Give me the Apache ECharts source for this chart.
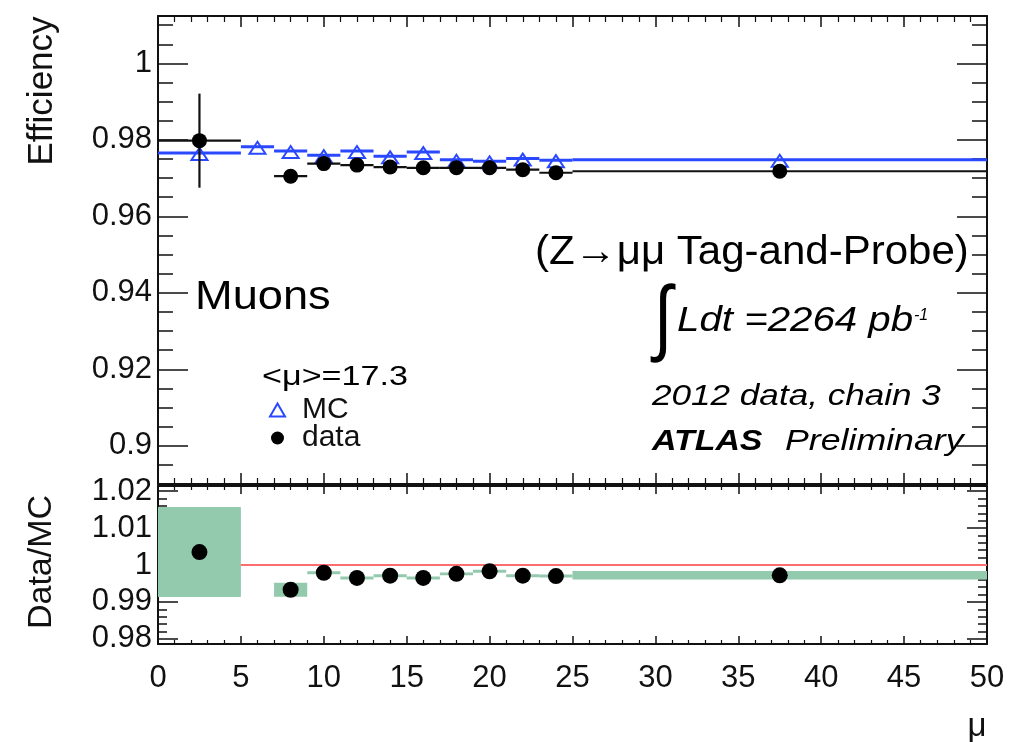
<!DOCTYPE html>
<html><head><meta charset="utf-8">
<script src="https://cdn.jsdelivr.net/npm/echarts@6/dist/echarts.min.js"></script>
<style>html,body{margin:0;padding:0;background:#fff}#c{width:1012px;height:742px}</style>
</head><body><div id="c"></div>
<script>
// ---- data ----
const binLo     = [0, 5, 7, 9, 11, 13, 15, 17, 19, 21, 23, 25];
const binHi     = [5, 7, 9, 11, 13, 15, 17, 19, 21, 23, 25, 50];
const binCenter = [2.5, 6, 8, 10, 12, 14, 16, 18, 20, 22, 24, 37.5];
const mcEff     = [0.9766, 0.9782, 0.9771, 0.9760, 0.9771, 0.9757, 0.9768, 0.9748, 0.9744, 0.9751, 0.9747, 0.9748];
const dataEff   = [0.9798, null, 0.9705, 0.9738, 0.9734, 0.9729, 0.9727, 0.9727, 0.9727, 0.9722, 0.9714, 0.9718];
const dataErr   = [0.0123, null, 0.0018, 0.0006, 0.0006, 0.0006, 0.0006, 0.0006, 0.0006, 0.0006, 0.0006, 0.0010];
const ratioVal  = [1.0035, null, 0.9933, 0.9979, 0.9965, 0.9971, 0.9965, 0.9976, 0.9983, 0.9971, 0.9970, 0.9972];
const ratioErr  = [0.0122, null, 0.0019, 0.0004, 0.0004, 0.0004, 0.0004, 0.0004, 0.0004, 0.0004, 0.0004, 0.00115];
const refLine   = [[0, 1], [50, 1]];

// ---- axis ticks ----
const topYMajor   = [0.9, 0.92, 0.94, 0.96, 0.98, 1.0];
const topYMinor   = [0.89, 0.895, 0.905, 0.91, 0.915, 0.925, 0.93, 0.935, 0.945, 0.95, 0.955, 0.965, 0.97, 0.975, 0.985, 0.99, 0.995, 1.005, 1.01];
const ratioYMajor = [0.98, 0.99, 1.0, 1.01, 1.02];
const ratioYMinor = [0.982, 0.984, 0.986, 0.988, 0.992, 0.994, 0.996, 0.998, 1.002, 1.004, 1.006, 1.008, 1.012, 1.014, 1.016, 1.018];

const BLUE = '#2a48ff', GREEN = '#93c9ad', RED = '#ff6e6e';
const FONT = 'Liberation Sans, Arial, Helvetica, sans-serif';

const mcRows = [], dataRows = [], bandRows = [], ratioPts = [];
for (let i = 0; i < binLo.length; i++) {
  mcRows.push([binLo[i], binHi[i], binCenter[i], mcEff[i]]);
  if (dataEff[i] !== null) dataRows.push([binLo[i], binHi[i], binCenter[i], dataEff[i], dataErr[i]]);
  if (ratioVal[i] !== null) {
    bandRows.push([binLo[i], binHi[i], ratioVal[i], ratioErr[i]]);
    ratioPts.push([binCenter[i], ratioVal[i]]);
  }
}

const lineStyle = {color: '#111', width: 2};
function xAx(grid, pos, showLabel, major, minor) {
  return {
    type: 'value', gridIndex: grid, position: pos, min: 0, max: 50, interval: 5,
    axisLine: {show: true, onZero: false, lineStyle},
    axisTick: {show: true, inside: true, length: major, lineStyle: {color: '#111', width: 1.5}},
    minorTick: {show: true, splitNumber: 5, length: minor, lineStyle: {color: '#111', width: 1.2}},
    splitLine: {show: false}, minorSplitLine: {show: false},
    axisLabel: {show: showLabel, color: '#111', fontSize: 31, fontFamily: FONT, margin: 19}
  };
}
function yAx(grid, pos, min, max, ticks, len, label, showLine) {
  return {
    type: 'value', gridIndex: grid, position: pos, min: min, max: max,
    axisLine: {show: showLine, onZero: false, lineStyle},
    axisTick: {show: true, inside: true, length: len, customValues: ticks, lineStyle: {color: '#111', width: 1.5}},
    splitLine: {show: false},
    axisLabel: label ? {show: true, customValues: ticks, color: '#111', fontSize: 31, fontFamily: FONT, margin: 6} : {show: false}
  };
}

const option = {
  animation: false,
  backgroundColor: '#fff',
  grid: [
    {left: 158, right: 25, top: 16, height: 468},
    {left: 158, right: 25, top: 486, height: 158}
  ],
  xAxis: [
    xAx(0, 'bottom', false, 11, 6),
    xAx(0, 'top', false, 11, 6),
    xAx(1, 'bottom', true, 8, 4),
    xAx(1, 'top', false, 8, 4)
  ],
  yAxis: [
    yAx(0, 'left', 0.89, 1.0124, topYMajor, 30, true, true),
    yAx(0, 'left', 0.89, 1.0124, topYMinor, 15, false, false),
    yAx(0, 'right', 0.89, 1.0124, topYMajor, 30, false, true),
    yAx(0, 'right', 0.89, 1.0124, topYMinor, 15, false, false),
    yAx(1, 'left', 0.9786, 1.0214, ratioYMajor, 20, true, true),
    yAx(1, 'left', 0.9786, 1.0214, ratioYMinor, 9, false, false),
    yAx(1, 'right', 0.9786, 1.0214, ratioYMajor, 20, false, true),
    yAx(1, 'right', 0.9786, 1.0214, ratioYMinor, 9, false, false)
  ],
  legend: {
    orient: 'vertical', left: 264, top: 390, itemWidth: 15, itemHeight: 13, itemGap: -2,
    selectedMode: false,
    textStyle: {fontSize: 30, fontFamily: FONT, color: '#111', padding: [0, 0, 0, 12]},
    data: [
      {name: 'MC', icon: 'triangle', itemStyle: {color: 'rgba(255,255,255,0)', borderColor: BLUE, borderWidth: 2}},
      {name: 'data', icon: 'circle', itemStyle: {color: '#000'}}
    ]
  },
  series: [
    {
      name: 'MC', type: 'custom', xAxisIndex: 0, yAxisIndex: 0, z: 3,
      data: mcRows, encode: {x: [0, 1, 2], y: [3]},
      itemStyle: {color: BLUE},
      renderItem(params, api) {
        const v = api.value(3);
        const a = api.coord([api.value(0), v]);
        const b = api.coord([api.value(1), v]);
        const c = api.coord([api.value(2), v]);
        return {type: 'group', children: [
          {type: 'line', shape: {x1: a[0], y1: a[1], x2: b[0], y2: b[1]}, style: {stroke: BLUE, lineWidth: 3}},
          {type: 'polygon', shape: {points: [[c[0], c[1] - 5], [c[0] - 8, c[1] + 7], [c[0] + 8, c[1] + 7]]},
           style: {fill: 'none', stroke: BLUE, lineWidth: 2}}
        ]};
      }
    },
    {
      name: 'data', type: 'custom', xAxisIndex: 0, yAxisIndex: 0, z: 4,
      data: dataRows, encode: {x: [0, 1, 2], y: [3]},
      itemStyle: {color: '#000'},
      renderItem(params, api) {
        const v = api.value(3), e = api.value(4);
        const a = api.coord([api.value(0), v]);
        const b = api.coord([api.value(1), v]);
        const c = api.coord([api.value(2), v]);
        const t = api.coord([api.value(2), v + e]);
        const d = api.coord([api.value(2), v - e]);
        return {type: 'group', children: [
          {type: 'line', shape: {x1: a[0], y1: a[1], x2: b[0], y2: b[1]}, style: {stroke: '#111', lineWidth: 2.2}},
          {type: 'line', shape: {x1: t[0], y1: t[1], x2: d[0], y2: d[1]}, style: {stroke: '#111', lineWidth: 2.2}},
          {type: 'circle', shape: {cx: c[0], cy: c[1], r: 7.5}, style: {fill: '#000'}}
        ]};
      }
    },
    {
      name: 'ref', type: 'line', xAxisIndex: 2, yAxisIndex: 4, z: 1,
      data: refLine, symbol: 'none', lineStyle: {color: RED, width: 2}, silent: true
    },
    {
      name: 'band', type: 'custom', xAxisIndex: 2, yAxisIndex: 4, z: 2,
      data: bandRows, encode: {x: [0, 1], y: [2]},
      renderItem(params, api) {
        const v = api.value(2), e = api.value(3);
        const p1 = api.coord([api.value(0), v + e]);
        const p2 = api.coord([api.value(1), v - e]);
        return {type: 'rect', shape: {x: p1[0], y: p1[1], width: p2[0] - p1[0], height: Math.max(p2[1] - p1[1], 2.5)},
                style: {fill: GREEN}};
      }
    },
    {
      name: 'ratio', type: 'scatter', xAxisIndex: 2, yAxisIndex: 4, z: 5,
      data: ratioPts, symbol: 'circle', symbolSize: 16, itemStyle: {color: '#000', opacity: 1}
    }
  ],
  graphic: [
    {type: 'text', x: 42, y: 91, rotation: Math.PI / 2,
     style: {text: 'Efficiency', fontSize: 35, fontFamily: FONT, fill: '#111', align: 'center', verticalAlign: 'middle'}},
    {type: 'text', x: 42, y: 562, rotation: Math.PI / 2,
     style: {text: 'Data/MC', fontSize: 34, fontFamily: FONT, fill: '#111', align: 'center', verticalAlign: 'middle'}},
    {type: 'text', x: 977, y: 727,
     style: {text: 'μ', fontSize: 33, fontFamily: FONT, fill: '#111', align: 'center', verticalAlign: 'middle'}},
    {type: 'text', x: 195, y: 298, scaleX: 1.13,
     style: {text: 'Muons', fontSize: 40, fontFamily: FONT, fill: '#000', align: 'left', verticalAlign: 'middle'}},
    {type: 'text', x: 535, y: 253, scaleX: 1.025,
     style: {text: '(Z→μμ Tag-and-Probe)', fontSize: 41, fontFamily: FONT, fill: '#000', align: 'left', verticalAlign: 'middle'}},
    {type: 'text', x: 663, y: 322, scaleX: 0.8, originX: 0,
     style: {text: '∫', fontSize: 84, fontFamily: FONT, fill: '#000', align: 'center', verticalAlign: 'middle'}},
    {type: 'text', x: 677, y: 321, scaleX: 1.15,
     style: {text: 'Ldt =2264 pb', fontSize: 35, fontStyle: 'italic', fontFamily: FONT, fill: '#000', align: 'left', verticalAlign: 'middle'}},
    {type: 'text', x: 914, y: 316,
     style: {text: '-1', fontSize: 16, fontStyle: 'italic', fontFamily: FONT, fill: '#000', align: 'left', verticalAlign: 'middle'}},
    {type: 'text', x: 652, y: 397, scaleX: 1.17,
     style: {text: '2012 data, chain 3', fontSize: 30, fontStyle: 'italic', fontFamily: FONT, fill: '#000', align: 'left', verticalAlign: 'middle'}},
    {type: 'text', x: 652, y: 442, scaleX: 1.13,
     style: {text: 'ATLAS', fontSize: 30, fontStyle: 'italic', fontWeight: 'bold', fontFamily: FONT, fill: '#000', align: 'left', verticalAlign: 'middle'}},
    {type: 'text', x: 785, y: 442, scaleX: 1.19,
     style: {text: 'Preliminary', fontSize: 30, fontStyle: 'italic', fontFamily: FONT, fill: '#000', align: 'left', verticalAlign: 'middle'}},
    {type: 'text', x: 262, y: 377, scaleX: 1.22,
     style: {text: '<μ>=17.3', fontSize: 28, fontFamily: FONT, fill: '#000', align: 'left', verticalAlign: 'middle'}}
  ]
};
const chart = echarts.init(document.getElementById('c'), null, {renderer: 'canvas'});
chart.setOption(option);
</script></body></html>
